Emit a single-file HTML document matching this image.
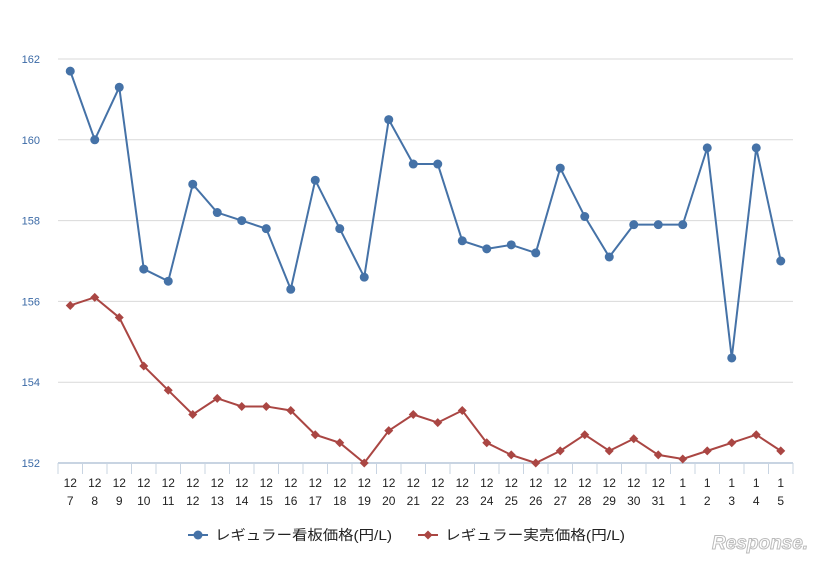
<!DOCTYPE html>
<html><head><meta charset="utf-8"><style>
body{margin:0;background:#fff;width:831px;height:562px;overflow:hidden;font-family:"Liberation Sans","Noto Sans CJK JP",sans-serif}
</style></head><body>
<svg id="c" width="831" height="562" xmlns="http://www.w3.org/2000/svg"></svg>
<script>
const months=[12,12,12,12,12,12,12,12,12,12,12,12,12,12,12,12,12,12,12,12,12,12,12,12,12,1,1,1,1,1];
const days=[7,8,9,10,11,12,13,14,15,16,17,18,19,20,21,22,23,24,25,26,27,28,29,30,31,1,2,3,4,5];
const signPrice=[161.7,160.0,161.3,156.8,156.5,158.9,158.2,158.0,157.8,156.3,159.0,157.8,156.6,160.5,159.4,159.4,157.5,157.3,157.4,157.2,159.3,158.1,157.1,157.9,157.9,157.9,159.8,154.6,159.8,157.0];
const salePrice=[155.9,156.1,155.6,154.4,153.8,153.2,153.6,153.4,153.4,153.3,152.7,152.5,152.0,152.8,153.2,153.0,153.3,152.5,152.2,152.0,152.3,152.7,152.3,152.6,152.2,152.1,152.3,152.5,152.7,152.3];
const yTicks=[152,154,156,158,160,162];
const NS="http://www.w3.org/2000/svg",svg=document.getElementById('c');
const L=58,R=793,Y0=463,Y1=59,ymin=152,ymax=162;
const step=(R-L)/days.length;
const x=i=>L+step*(i+0.5);
const y=v=>Y0-(v-ymin)/(ymax-ymin)*(Y0-Y1);
function el(t,a,txt){const e=document.createElementNS(NS,t);for(const k in a)e.setAttribute(k,a[k]);if(txt!=null)e.textContent=txt;svg.appendChild(e);return e;}
yTicks.forEach(v=>{
 const g=el('line',{x1:L,x2:R,y1:y(v),y2:y(v),stroke:v===152?'#c8d4e2':'#d9d9d9','stroke-width':v===152?2:1});
 
 
 const t=el('text',{x:40,y:y(v)+4,'text-anchor':'end','font-size':11,fill:'#3b6aa6'},v);
 
 
});
for(let i=0;i<=days.length;i++){
 const tk=el('line',{x1:L+step*i,x2:L+step*i,y1:Y0,y2:Y0+11,stroke:'#c8d4e2'});
 
 
}
days.forEach((d,i)=>{
 const a=el('text',{x:x(i),y:487,'text-anchor':'middle','font-size':12,fill:'#222'},months[i]);
 
 
 const b=el('text',{x:x(i),y:505,'text-anchor':'middle','font-size':12,fill:'#222'},d);
 
 
});
function series(vals,color,shape,name){
 const p=el('polyline',{points:vals.map((v,i)=>x(i)+','+y(v)).join(' '),fill:'none',stroke:color,'stroke-width':2});
 
 
 vals.forEach((v,i)=>{
  let m;
  if(shape==='c')m=el('circle',{cx:x(i),cy:y(v),r:4.5,fill:color});
  else{const cx=x(i),cy=y(v);m=el('polygon',{points:`${cx},${cy-4.5} ${cx+4.5},${cy} ${cx},${cy+4.5} ${cx-4.5},${cy}`,fill:color});}
  
  
 });
}
series(signPrice,'#4572a7','c','sign-price');
series(salePrice,'#aa4643','d','sale-price');
let l=el('line',{x1:188,x2:208,y1:535,y2:535,stroke:'#4572a7','stroke-width':2});

l=el('circle',{cx:198,cy:535,r:4.5,fill:'#4572a7'});

l=el('text',{x:215,y:540,'font-size':14,fill:'#222',textLength:177,lengthAdjust:'spacingAndGlyphs'},'レギュラー看板価格(円/L)');

l=el('line',{x1:418,x2:438,y1:535,y2:535,stroke:'#aa4643','stroke-width':2});

l=el('polygon',{points:'428,530.5 432.5,535 428,539.5 423.5,535',fill:'#aa4643'});

l=el('text',{x:445,y:540,'font-size':14,fill:'#222',textLength:180,lengthAdjust:'spacingAndGlyphs'},'レギュラー実売価格(円/L)');

l=el('text',{x:712,y:549,'font-size':19,'font-style':'italic','font-weight':'bold',fill:'#fff',stroke:'#bbb','stroke-width':1},'Response.');

</script>
</body></html>
